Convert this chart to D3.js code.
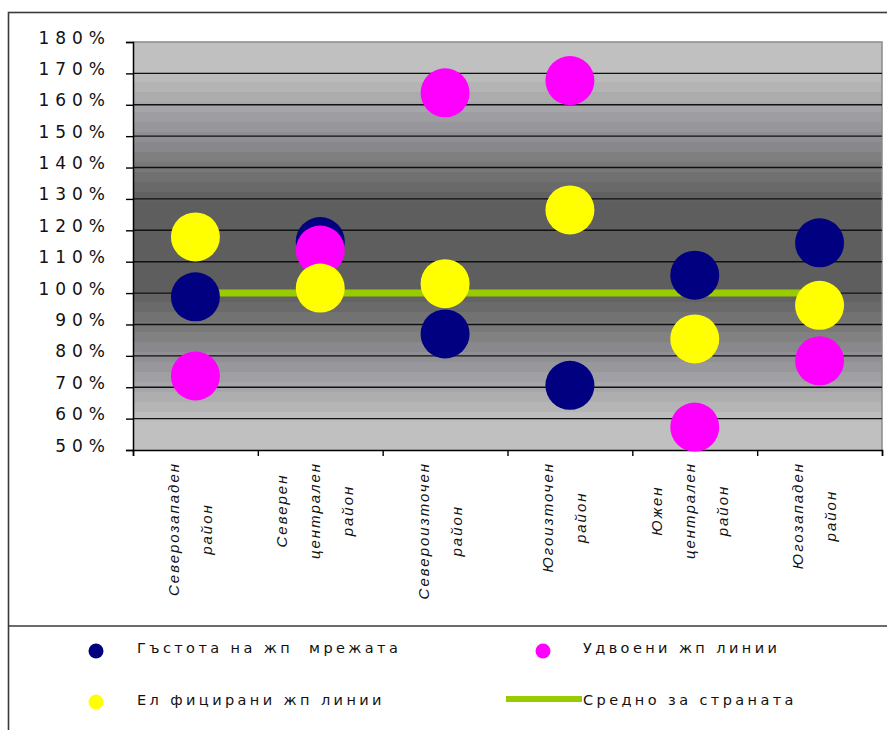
<!DOCTYPE html>
<html><head><meta charset="utf-8">
<script src="https://cdn.jsdelivr.net/npm/d3@7/dist/d3.min.js"></script>
<style>body{margin:0;background:#fff}svg{display:block}</style>
</head><body><svg id="c" width="887" height="730"></svg>
<script>
const categories = [
  ["Северозападен", "район"],
  ["Северен", "централен", "район"],
  ["Североизточен", "район"],
  ["Югоизточен", "район"],
  ["Южен", "централен", "район"],
  ["Югозападен", "район"]
];
const density     = [98.8, 116.4, 87.0, 70.6, 105.7, 116.0];
const doubled     = [73.6, 113.7, 163.8, 167.7, 57.3, 78.4];
const electrified = [117.9, 101.6, 103.0, 126.5, 85.4, 96.1];
const average     = [100, 100, 100, 100, 100, 100];
const yTicks = [50, 60, 70, 80, 90, 100, 110, 120, 130, 140, 150, 160, 170, 180];
const seriesNames = ["Гъстота на жп  мрежата", "Удвоени жп линии", "Ел фицирани жп линии", "Средно за страната"];

const svg = d3.select("#c");
const L = 133, R = 882, T = 42, B = 450;
const x = d3.scaleBand().domain(d3.range(categories.length)).range([L, R]);
const xb = d3.scaleLinear().domain([0, categories.length]).range([L, R]);
const y = d3.scaleLinear().domain([50, 180]).range([B, T]);

// outer frame
svg.append("rect").attr("x", 8.5).attr("y", 12.5).attr("width", 900).attr("height", 800)
  .attr("fill", "#fff").attr("stroke", "#3a3a3a").attr("stroke-width", 1.6);
svg.append("line").attr("x1", 8).attr("x2", 887).attr("y1", 626).attr("y2", 626)
  .attr("stroke", "#3a3a3a").attr("stroke-width", 1.6);

// banded background
const bandH = 10;
const bg = svg.append("g");
for (let yy = T; yy < B; yy += bandH) {
  const mid = yy + bandH / 2;
  const d = Math.abs(mid - (T + B) / 2) / ((B - T) / 2);
  let g;
  if (d < 0.22) g = 94;
  else if (d > 0.86) g = 192;
  else g = 94 + (192 - 94) * (d - 0.22) / (0.86 - 0.22);
  g = Math.round(g);
  bg.append("rect").attr("x", L).attr("y", yy).attr("width", R - L)
    .attr("height", Math.min(bandH, B - yy)).attr("fill", d3.rgb(g, g, g + (d > 0.45 && d < 0.7 ? 5 : 0)));
}
// plot border top/right
svg.append("path").attr("d", `M${L},${T}H${R}V${B}`).attr("fill", "none")
  .attr("stroke", "#8a8a8a").attr("stroke-width", 1.5);

// gridlines
svg.append("g").selectAll("line").data(yTicks.filter(v => v > 50 && v < 180)).join("line")
  .attr("x1", L).attr("x2", R).attr("y1", d => y(d)).attr("y2", d => y(d))
  .attr("stroke", "#111").attr("stroke-width", 1.4);

// y axis
const ya = svg.append("g").attr("transform", `translate(${L},0)`)
  .call(d3.axisLeft(y).tickValues(yTicks).tickSize(7).tickPadding(0).tickFormat(d => d + "%"));
ya.select(".domain").attr("stroke", "#000").attr("stroke-width", 1.5);
ya.selectAll(".tick line").attr("stroke", "#000").attr("stroke-width", 1.4);
ya.selectAll(".tick text").attr("x", -22).attr("dy", null).attr("y", 1)
  .attr("font-family", "'DejaVu Sans', sans-serif").attr("font-size", 17)
  .attr("letter-spacing", 6).attr("fill", "#111").attr("text-anchor", "end");

// x axis
const xa = svg.append("g").attr("transform", `translate(0,${B})`)
  .call(d3.axisBottom(xb).tickValues(d3.range(categories.length + 1)).tickSize(6).tickFormat(""));
xa.select(".domain").attr("stroke", "#000").attr("stroke-width", 1.5);
xa.selectAll(".tick line").attr("stroke", "#000").attr("stroke-width", 1.4);

// category labels
const lab = svg.append("g");
categories.forEach((lines, i) => {
  const cx = x(i) + x.bandwidth() / 2 - 5;
  const n = lines.length;
  const grp = lab.append("g");
  const texts = lines.map((s, j) => grp.append("text").text(s)
    .attr("font-family", "'Liberation Sans', Arial, sans-serif").attr("font-style", "italic")
    .attr("font-size", 15).attr("letter-spacing", 2).attr("fill", "#111")
    .attr("text-anchor", "middle"));
  const maxLen = d3.max(texts, t => t.node().getComputedTextLength());
  const cy = 462 + maxLen / 2;
  texts.forEach((t, j) => {
    const lx = cx + (j - (n - 1) / 2) * 33 + 5;
    t.attr("transform", `translate(${lx},${cy}) rotate(-90)`);
  });
});

// average line
svg.append("path").datum(average)
  .attr("d", d3.line().x((d, i) => x(i) + x.bandwidth() / 2).y(d => y(d)))
  .attr("fill", "none").attr("stroke", "#99cc00").attr("stroke-width", 7);

// markers
const series = [
  { vals: density, color: "#000080" },
  { vals: doubled, color: "#ff00ff" },
  { vals: electrified, color: "#ffff00" }
];
series.forEach(s => {
  svg.append("g").selectAll("circle").data(s.vals).join("circle")
    .attr("cx", (d, i) => x(i) + x.bandwidth() / 2).attr("cy", d => y(d))
    .attr("r", 24.5).attr("fill", s.color);
});

// legend
const lg = svg.append("g").attr("font-family", "'DejaVu Sans', sans-serif")
  .attr("font-size", 14.5).attr("letter-spacing", 3.4).attr("fill", "#111");
const legendItems = [
  { name: seriesNames[0], color: "#000080", type: "dot", mx: 96, my: 651, tx: 137, ty: 653 },
  { name: seriesNames[1], color: "#ff00ff", type: "dot", mx: 543, my: 651, tx: 583, ty: 653 },
  { name: seriesNames[2], color: "#ffff00", type: "dot", mx: 96, my: 702, tx: 137, ty: 705 },
  { name: seriesNames[3], color: "#99cc00", type: "line", mx: 544, my: 699, tx: 583, ty: 705 }
];
legendItems.forEach(it => {
  if (it.type === "dot") {
    lg.append("circle").attr("cx", it.mx).attr("cy", it.my).attr("r", 7.5).attr("fill", it.color);
  } else {
    lg.append("line").attr("x1", it.mx - 38).attr("x2", it.mx + 38).attr("y1", it.my).attr("y2", it.my)
      .attr("stroke", it.color).attr("stroke-width", 6);
  }
  lg.append("text").attr("x", it.tx).attr("y", it.ty).text(it.name)
    .style("white-space", "pre");
});
</script></body></html>
